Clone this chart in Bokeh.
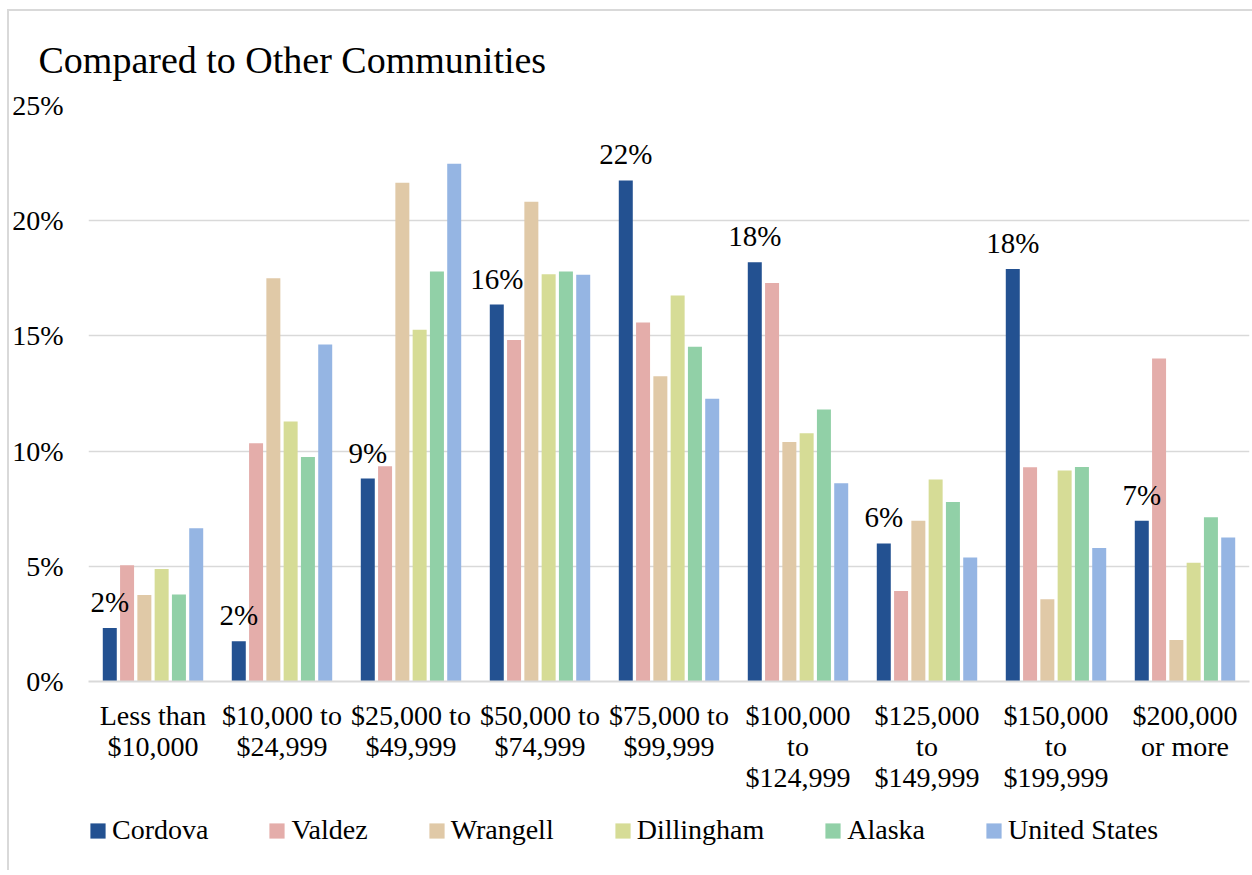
from bokeh.plotting import figure
from bokeh.layouts import column
from bokeh.models import (FactorRange, Range1d, ColumnDataSource, Legend, LegendItem,
                          PrintfTickFormatter, FixedTicker, Title)
from bokeh.transform import dodge
from bokeh.core.properties import value
from bokeh.embed import file_html
from bokeh.resources import INLINE

categories = ["Less than\n$10,000", "$10,000 to\n$24,999", "$25,000 to\n$49,999",
              "$50,000 to\n$74,999", "$75,000 to\n$99,999", "$100,000\nto\n$124,999",
              "$125,000\nto\n$149,999", "$150,000\nto\n$199,999", "$200,000\nor more"]

cordova    = [2.32, 1.75, 8.81, 16.36, 21.75, 18.20, 5.99, 17.90, 6.98]
valdez     = [5.05, 10.34, 9.34, 14.82, 15.58, 17.30, 3.93, 9.30, 14.02]
wrangell   = [3.75, 17.50, 21.65, 20.82, 13.25, 10.40, 6.98, 3.57, 1.80]
dillingham = [4.88, 11.28, 15.27, 17.68, 16.75, 10.78, 8.77, 9.16, 5.15]
alaska     = [3.78, 9.74, 17.79, 17.80, 14.53, 11.81, 7.79, 9.31, 7.13]
us         = [6.65, 14.63, 22.47, 17.65, 12.27, 8.61, 5.38, 5.79, 6.25]

series_names = ["Cordova", "Valdez", "Wrangell", "Dillingham", "Alaska", "United States"]
series_vals = [cordova, valdez, wrangell, dillingham, alaska, us]
colors = ["#235191", "#e4adaa", "#e0c9a7", "#d6dc96", "#91d0a7", "#95b5e3"]

y_ticks = [0, 5, 10, 15, 20, 25]
title_text = "Compared to Other Communities"

FONT = "Liberation Serif"

data = {"cat": categories}
for name, vals in zip(series_names, series_vals):
    data[name] = vals
source = ColumnDataSource(data)
label_source = ColumnDataSource(dict(cat=categories, val=cordova,
                                     label=[f"{round(v)}%" for v in cordova]))

OX, OY = 9, 11   # offset of the content caused by the box border
W = 1252 - OX
p = figure(x_range=FactorRange(*categories), y_range=Range1d(0, 25),
           width=W, height=800 - OY, output_backend="svg", toolbar_location=None,
           min_border_left=88 - OX, min_border_right=3, min_border_top=105 - OY,
           min_border_bottom=119)
p.outline_line_color = None
p.background_fill_color = "white"
p.border_fill_color = "white"

stride = 0.134
bw = 0.1085
for i, (name, col) in enumerate(zip(series_names, colors)):
    off = (i - 2.5) * stride
    p.vbar(x=dodge("cat", off, range=p.x_range), top=name, width=bw, source=source,
           fill_color=col, line_color=None)

p.text(x=dodge("cat", -2.5 * stride, range=p.x_range), y="val", text="label",
       source=label_source,
       text_font=value(FONT), text_font_size="29px", text_color="black",
       text_align="center", text_baseline="alphabetic", y_offset=-26)

# axes
p.yaxis.ticker = FixedTicker(ticks=y_ticks)
p.yaxis.formatter = PrintfTickFormatter(format="%d%%")
p.yaxis.axis_line_color = None
p.yaxis.major_tick_line_color = None
p.yaxis.minor_tick_line_color = None
p.yaxis.major_tick_out = 0
p.yaxis.major_tick_in = 0
p.yaxis.minor_tick_out = 0
p.yaxis.major_label_standoff = 25
p.yaxis.major_label_text_font = FONT
p.yaxis.major_label_text_font_size = "28px"
p.yaxis.major_label_text_color = "black"

p.xaxis.axis_line_color = "#d9d9d9"
p.xaxis.axis_line_width = 2
p.xaxis.major_tick_line_color = None
p.xaxis.minor_tick_line_color = None
p.xaxis.major_tick_out = 0
p.xaxis.major_tick_in = 0
p.xaxis.major_label_standoff = 18
p.xaxis.major_label_text_font = FONT
p.xaxis.major_label_text_font_size = "28px"
p.xaxis.major_label_text_color = "black"
p.xaxis.major_label_text_line_height = 1.0

p.xgrid.grid_line_color = None
p.ygrid.grid_line_color = "#d9d9d9"
p.ygrid.grid_line_width = 1.5

# title
p.add_layout(Title(text=title_text, text_font=FONT, text_font_size="38px",
                   text_font_style="normal", text_color="black", align="left",
                   offset=-50, standoff=50), "above")

# legend strip (separate small figure beneath the chart)
LH = 70
pl = figure(width=W, height=LH, x_range=Range1d(0, 1), y_range=Range1d(0, 1),
            output_backend="svg", toolbar_location=None,
            x_axis_type=None, y_axis_type=None,
            min_border_left=0, min_border_right=0, min_border_top=0, min_border_bottom=0)
pl.outline_line_color = None
pl.grid.visible = False
pl.background_fill_color = "white"
pl.border_fill_color = "white"

dummy = []
for name, col in zip(series_names, colors):
    dummy.append(pl.vbar(x=[0.5], bottom=[0], top=[0], width=0.0, fill_color=col, line_color=None))

legend = Legend(items=[LegendItem(label=n, renderers=[r]) for n, r in zip(series_names, dummy)],
                orientation="horizontal", location=(0, 24),
                glyph_width=19, glyph_height=19, label_standoff=5, spacing=59,
                padding=0, margin=0, border_line_color=None, background_fill_alpha=0,
                label_text_font=FONT, label_text_font_size="28px", label_text_color="black")
pl.add_layout(legend, "center")

layout = column(p, pl, spacing=0,
                styles={"margin-left": "7px", "margin-top": "9px",
                        "border-left": "2px solid #d9d9d9", "border-top": "2px solid #d9d9d9"})
open("out.html", "w").write(file_html(layout, INLINE))
